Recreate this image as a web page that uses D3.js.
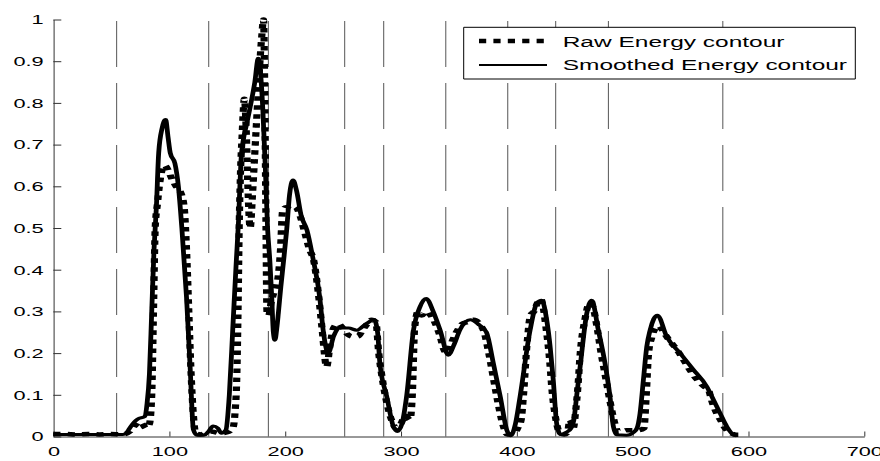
<!DOCTYPE html>
<html><head><meta charset="utf-8">
<script src="https://cdn.jsdelivr.net/npm/d3@7/dist/d3.min.js"></script>
<style>
html,body{margin:0;padding:0;background:#fff;}
svg{display:block;}
text{font-family:"Liberation Sans",Arial,Helvetica,sans-serif;fill:#000;}
</style></head>
<body>
<svg id="chart" width="880" height="461"></svg>
<script>
// ---- data ----
const xTicks = [0,100,200,300,400,500,600,700];
const yTicks = [0,0.1,0.2,0.3,0.4,0.5,0.6,0.7,0.8,0.9,1];
const yTickLabels = ["0","0.1","0.2","0.3","0.4","0.5","0.6","0.7","0.8","0.9","1"];
const boundaries = [54.7,134.2,185.7,251.6,285.3,338.9,392.4,433.8,479.3,578.1];
const seriesNames = ["Raw Energy contour","Smoothed Energy contour"];

const rawX = [0,10,20,30,40,50,58,62,66,70,74,77,80,83,85,86.5,88,90,92,94,96,99,102,106,110,113,115,117,119,121,123,127,132,136,140,145,150,155,157,158.5,159.5,160.5,161.5,163,165,166.5,168,170,172,174,176,178,180,181.5,182.5,183.5,184.5,186,188,191,194,196,198,201,205,209,213,217,221,225,229,232,236,239,242,246,250,254,258,263,267,271,275,278.5,281,284,288,292,296,300,304,308,310,312,315,318,322,326,330,334,337,339.5,343,348,353,358,363,368,372,376,380,384,388,392,397,401,404,406,409,412,415,418,421,423,425,428,431,434,437,441,444,446,449,451,453,455,459,463,466,469,473,477,481,485,488,495,505,510,512,514,517,520,523,527,532,538,545,552,558,562,566,568,572,576,580,585,590,597];
const rawY = [0.006,0.006,0.005,0.006,0.005,0.006,0.005,0.006,0.012,0.025,0.035,0.03,0.02,0.03,0.1,0.3,0.5,0.56,0.61,0.64,0.65,0.64,0.62,0.6,0.585,0.55,0.45,0.3,0.15,0.05,0.008,0.005,0.01,0.012,0.01,0.008,0.01,0.02,0.06,0.15,0.3,0.5,0.62,0.72,0.81,0.74,0.6,0.5,0.58,0.68,0.78,0.88,0.96,1.0,0.85,0.55,0.3,0.29,0.32,0.35,0.38,0.44,0.54,0.55,0.545,0.55,0.53,0.49,0.45,0.42,0.34,0.26,0.167,0.22,0.26,0.27,0.26,0.245,0.24,0.24,0.255,0.27,0.28,0.275,0.2,0.14,0.08,0.04,0.02,0.03,0.05,0.04,0.1,0.26,0.3,0.29,0.3,0.29,0.27,0.24,0.21,0.2,0.22,0.25,0.27,0.275,0.28,0.27,0.25,0.2,0.14,0.08,0.03,0.005,0.005,0.02,0.04,0.1,0.22,0.29,0.3,0.32,0.33,0.31,0.27,0.2,0.1,0.04,0.01,0.005,0.01,0.04,0.02,0.06,0.12,0.2,0.28,0.32,0.31,0.27,0.2,0.14,0.08,0.03,0.01,0.015,0.015,0.02,0.1,0.2,0.24,0.26,0.265,0.25,0.23,0.21,0.18,0.15,0.13,0.12,0.11,0.09,0.06,0.04,0.02,0.008,0.004,0.004];

const smoothX = [0,20,40,60,63,66,70,73,79,81,83,85,87,89,91,94,97,99,101,105,108,111,115,118,121,124,130,134,138,142,145,149,152,155,158,160,162,164,167,170,174,177,179,181,183,185,187,188.6,190,191.4,193,194.3,196.5,198.6,201.5,204,207,210,214,219,224,230,233,237.5,242,247,255,262,270,277,280,282,288,293.6,297,301,305,311,316.6,322,328,334,341,346,351,360,368,374,380,386,391.5,395,399,403,411.7,417.5,421.7,426,429,431.7,434.7,438,443,447,449.5,452,455,460.6,464.9,470.6,476.4,480.7,483.6,486.5,495,501,504,506.6,509.5,512.4,515.3,521.6,529.7,541.2,552.7,564.2,570,575.7,581.5,587.2,590];
const smoothY = [0.005,0.005,0.005,0.005,0.008,0.02,0.035,0.042,0.048,0.08,0.15,0.3,0.45,0.55,0.68,0.74,0.76,0.72,0.68,0.655,0.6,0.5,0.335,0.175,0.016,0.003,0.003,0.012,0.025,0.02,0.008,0.015,0.1,0.26,0.42,0.52,0.66,0.71,0.75,0.79,0.85,0.907,0.87,0.78,0.65,0.5,0.42,0.335,0.25,0.231,0.26,0.295,0.36,0.415,0.495,0.58,0.615,0.59,0.53,0.495,0.43,0.335,0.255,0.2,0.24,0.26,0.26,0.255,0.27,0.28,0.25,0.175,0.095,0.024,0.012,0.03,0.095,0.255,0.311,0.331,0.3,0.255,0.195,0.22,0.255,0.28,0.267,0.25,0.175,0.095,0.016,0.002,0.03,0.095,0.255,0.32,0.327,0.28,0.215,0.135,0.03,0.005,0.01,0.02,0.04,0.1,0.17,0.295,0.327,0.255,0.175,0.095,0.024,0.004,0.003,0.01,0.02,0.055,0.135,0.215,0.255,0.291,0.239,0.2,0.16,0.12,0.088,0.056,0.024,0.004,0.002];

// ---- drawing ----
const S = 1.6; // horizontal stretch of the original figure
const svg = d3.select("#chart");
const g = svg.append("g").attr("transform", `scale(${S},1)`);

const x = d3.scaleLinear().domain([0,700]).range([53.3/S, 864/S]);
const y = d3.scaleLinear().domain([0,1]).range([436.5, 19.5]);

// vertical dashed boundary lines
g.append("g").selectAll("line").data(boundaries).join("line")
  .attr("x1", d => x(d)).attr("x2", d => x(d))
  .attr("y1", y(1) + 1.5).attr("y2", y(0))
  .attr("stroke", "#555").attr("stroke-width", 1)
  .attr("vector-effect", "non-scaling-stroke")
  .attr("stroke-dasharray", "46,16");

// axes
const axisColor = "#333";
const xAxis = g.append("g").attr("transform", `translate(0,${y(0)})`)
  .call(d3.axisBottom(x).tickValues(xTicks).tickFormat(d3.format("d"))
        .tickSize(-5).tickSizeOuter(0).tickPadding(10));
const yAxis = g.append("g").attr("transform", `translate(${x(0)},0)`)
  .call(d3.axisLeft(y).tickValues(yTicks).tickFormat((d,i) => yTickLabels[i])
        .tickSize(-5).tickSizeOuter(0).tickPadding(6));
[xAxis, yAxis].forEach(a => {
  a.selectAll("path,line").attr("stroke", axisColor).attr("stroke-width", 1)
    .attr("vector-effect", "non-scaling-stroke");
  a.selectAll("text").style("font-size", "13.6px").attr("fill", "#000")
    .style("font-family", '"Liberation Sans",Arial,sans-serif');
});

// curves
const line = d3.line().x(d => x(d[0])).y(d => y(d[1])).curve(d3.curveMonotoneX);
const rawData = rawX.map((v,i) => [v, rawY[i]]);
const smoothData = smoothX.map((v,i) => [v, smoothY[i]]);

g.append("path").datum(rawData).attr("d", line)
  .attr("fill", "none").attr("stroke", "#000")
  .attr("stroke-width", 4.5).attr("stroke-dasharray", "4.5,4.5");
g.append("path").datum(smoothData).attr("d", line)
  .attr("fill", "none").attr("stroke", "#000")
  .attr("stroke-width", 3).attr("stroke-linejoin", "round");

// legend
const lg = g.append("g");
lg.append("rect").attr("x", 463.7/S).attr("y", 27.3)
  .attr("width", (855.3-463.7)/S).attr("height", 51.7)
  .attr("fill", "#fff").attr("stroke", "#000").attr("stroke-width", 1)
  .attr("vector-effect", "non-scaling-stroke");
const rows = [
  {name: seriesNames[0], dash: "4.5,4.5", w: 4.5, ly: 41, ty: 47.5},
  {name: seriesNames[1], dash: null, w: 2, ly: 65, ty: 70}
];
rows.forEach(r => {
  lg.append("line").attr("x1", 479/S).attr("x2", 547/S)
    .attr("y1", r.ly).attr("y2", r.ly)
    .attr("stroke", "#000").attr("stroke-width", r.w)
    .attr("stroke-dasharray", r.dash);
  lg.append("text").attr("x", 562.7/S).attr("y", r.ty)
    .style("font-size", "15.3px").text(r.name);
});
</script>
</body></html>
